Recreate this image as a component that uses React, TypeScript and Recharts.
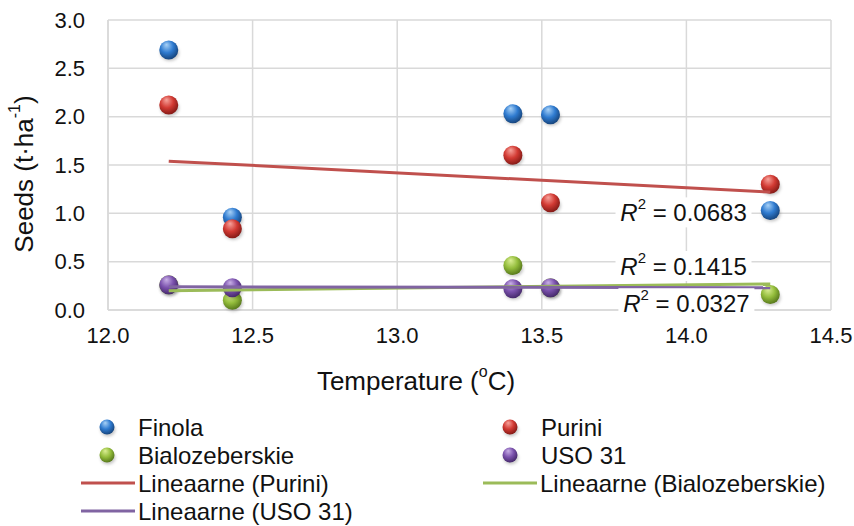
import React from 'react';
import {
  ScatterChart,
  Scatter,
  XAxis,
  YAxis,
  CartesianGrid,
  ReferenceDot
} from 'recharts';

const temperature = [12.21, 12.43, 13.4, 13.53, 14.29];
const finola = [2.69, 0.96, 2.03, 2.02, 1.03];
const purini = [2.12, 0.84, 1.6, 1.11, 1.3];
const bialozeberskie = [0.26, 0.1, 0.46, 0.23, 0.16];
// the USO 31 marker at 14.29 is not visible in the source
const uso31 = [0.26, 0.23, 0.22, 0.23, null];

const trendX = [12.21, 14.29];
const trendPurini = [1.54, 1.22];
const trendBialozeberskie = [0.2, 0.27];
const trendUso31 = [0.24, 0.23];

const xTicks = [12, 12.5, 13, 13.5, 14, 14.5];
const yTicks = [0, 0.5, 1, 1.5, 2, 2.5, 3];

const rSquared = [
  { x: 13.99, y: 1.01, text: '0.0683' },
  { x: 13.99, y: 0.455, text: '0.1415' },
  { x: 14.0, y: 0.07, text: '0.0327' },
];

const FONT = '"Liberation Sans", Arial, sans-serif';

const palette = {
  blue: ['#a9d2f7', '#2f7bd0', '#17467f'],
  red: ['#f7a39c', '#d23a33', '#861b17'],
  green: ['#dcef96', '#94bd3c', '#587a1c'],
  purple: ['#c9b0e6', '#7b52ad', '#472a6d'],
};

const toPoints = (xs: number[], ys: (number | null)[]) =>
  xs.map((x, i) => ({ x, y: ys[i] })).filter(p => p.y !== null);

const Gradients = () => (
  <defs>
    {Object.entries(palette).map(([key, c]) => (
      <radialGradient key={key} id={`ball-${key}`} cx="42%" cy="38%" r="62%" fx="38%" fy="22%">
        <stop offset="0%" stopColor={c[0]} />
        <stop offset="55%" stopColor={c[1]} />
        <stop offset="100%" stopColor={c[2]} />
      </radialGradient>
    ))}
    <filter id="ball-shadow" x="-50%" y="-50%" width="200%" height="200%">
      <feGaussianBlur stdDeviation="1.6" />
    </filter>
  </defs>
);

const Ball = ({ cx, cy, r, color }: { cx: number; cy: number; r: number; color: string }) => (
  <g>
    <ellipse cx={cx + 1} cy={cy + 3} rx={r} ry={r * 0.85} fill="rgba(0,0,0,0.22)" filter="url(#ball-shadow)" />
    <circle cx={cx} cy={cy} r={r} fill={`url(#ball-${color})`} />
  </g>
);

const ballShape = (color: string) => (props: any) => <Ball cx={props.cx} cy={props.cy} r={9.5} color={color} />;

const RLabel = (props: any) => {
  const vb = props.viewBox || {};
  const cx = vb.x + (vb.width || 0) / 2;
  const cy = vb.y + (vb.height || 0) / 2;
  return (
    <g>
      <rect x={cx - 68} y={cy - 15} width={136} height={30} fill="#fff" />
      <text x={cx} y={cy} textAnchor="middle" dominantBaseline="central" fontSize={24} fill="#111" fontFamily={FONT}>
        <tspan fontStyle="italic">R</tspan>
        <tspan fontSize={15} dy={-9}>2</tspan>
        <tspan dy={9}>{` = ${props.text}`}</tspan>
      </text>
    </g>
  );
};

const YTitle = () => (
  <text x={24} y={174} transform="rotate(-90 24 174)" textAnchor="middle" dominantBaseline="central" fontSize={26} fill="#111" fontFamily={FONT}>
    Seeds (t·ha<tspan fontSize={16} dy={-10}>-1</tspan><tspan dy={10}>)</tspan>
  </text>
);

const XTitle = () => (
  <text x={416} y={381} textAnchor="middle" dominantBaseline="central" fontSize={26} fill="#111" fontFamily={FONT}>
    Temperature (<tspan fontSize={16} dy={-10}>o</tspan><tspan dy={10}>C)</tspan>
  </text>
);

const legendBalls = [
  { name: 'Finola', color: 'blue', x: 107, y: 427 },
  { name: 'Purini', color: 'red', x: 510, y: 427 },
  { name: 'Bialozeberskie', color: 'green', x: 107, y: 455 },
  { name: 'USO 31', color: 'purple', x: 510, y: 455 },
];

const legendLines = [
  { name: 'Lineaarne (Purini)', color: '#c0504d', x: 81, y: 483 },
  { name: 'Lineaarne (Bialozeberskie)', color: '#9bbb59', x: 483, y: 483 },
  { name: 'Lineaarne (USO 31)', color: '#8064a2', x: 81, y: 511 },
];

const Legend = () => (
  <svg width={854} height={526} style={{ position: 'absolute', left: 0, top: 0, pointerEvents: 'none' }}>
    <Gradients />
    {legendBalls.map(b => (
      <g key={b.name}>
        <Ball cx={b.x} cy={b.y} r={7.5} color={b.color} />
        <text x={b.x + 31} y={b.y} dominantBaseline="central" fontSize={24} fill="#111" fontFamily={FONT}>{b.name}</text>
      </g>
    ))}
    {legendLines.map(l => (
      <g key={l.name}>
        <line x1={l.x} x2={l.x + 54} y1={l.y} y2={l.y} stroke={l.color} strokeWidth={3} />
        <text x={l.x + 57} y={l.y} dominantBaseline="central" fontSize={24} fill="#111" fontFamily={FONT}>{l.name}</text>
      </g>
    ))}
  </svg>
);

const noShape = () => <g />;

export default function App() {
  const tickStyle = { fontSize: 22, fill: '#111', fontFamily: FONT };
  return (
    <div style={{ position: 'absolute', left: 0, top: 0, width: 854, height: 526, background: '#fff' }}>
      <ScatterChart width={854} height={526} margin={{ top: 20, right: 23, left: 0, bottom: 176 }}>
        <Gradients />
        <CartesianGrid stroke="#d9d9d9" strokeWidth={1.5} horizontalValues={yTicks} verticalValues={xTicks} />
        <XAxis
          type="number"
          dataKey="x"
          domain={[12, 14.5]}
          ticks={xTicks}
          tickFormatter={(v: number) => v.toFixed(1)}
          tick={tickStyle}
          tickLine={false}
          tickMargin={11}
          axisLine={{ stroke: '#d9d9d9', strokeWidth: 1.5 }}
          height={40}
          label={<XTitle />}
        />
        <YAxis
          type="number"
          dataKey="y"
          domain={[0, 3]}
          ticks={yTicks}
          tickFormatter={(v: number) => v.toFixed(1)}
          tick={tickStyle}
          tickLine={false}
          tickMargin={17}
          axisLine={{ stroke: '#d9d9d9', strokeWidth: 1.5 }}
          width={108}
          label={<YTitle />}
        />
        <Scatter name="Finola" data={toPoints(temperature, finola)} shape={ballShape('blue')} isAnimationActive={false} />
        <Scatter name="Purini" data={toPoints(temperature, purini)} shape={ballShape('red')} isAnimationActive={false} />
        <Scatter name="Bialozeberskie" data={toPoints(temperature, bialozeberskie)} shape={ballShape('green')} isAnimationActive={false} />
        <Scatter name="USO 31" data={toPoints(temperature, uso31)} shape={ballShape('purple')} isAnimationActive={false} />
        <Scatter name="Lineaarne (Purini)" data={toPoints(trendX, trendPurini)} line={{ stroke: '#c0504d', strokeWidth: 3 }} shape={noShape} isAnimationActive={false} />
        <Scatter name="Lineaarne (Bialozeberskie)" data={toPoints(trendX, trendBialozeberskie)} line={{ stroke: '#9bbb59', strokeWidth: 3 }} shape={noShape} isAnimationActive={false} />
        <Scatter name="Lineaarne (USO 31)" data={toPoints(trendX, trendUso31)} line={{ stroke: '#8064a2', strokeWidth: 3 }} shape={noShape} isAnimationActive={false} />
        {rSquared.map(r => (
          <ReferenceDot key={r.text} x={r.x} y={r.y} r={0} fill="none" stroke="none" label={<RLabel text={r.text} />} />
        ))}
      </ScatterChart>
      <Legend />
    </div>
  );
}
